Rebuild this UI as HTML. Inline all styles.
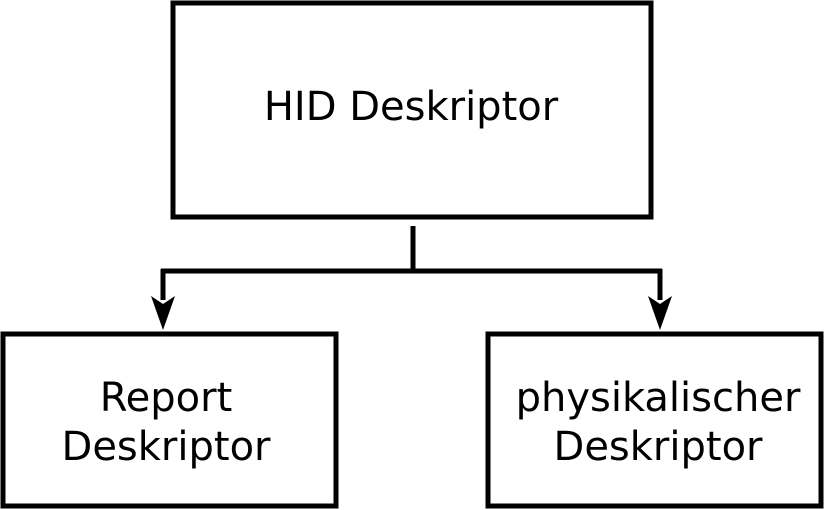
<!DOCTYPE html>
<html><head><style>html,body{margin:0;padding:0;background:#fff}svg{display:block}</style></head>
<body>
<svg width="825" height="510" viewBox="0 0 825 510" xmlns="http://www.w3.org/2000/svg" font-family="DejaVu Sans, Liberation Sans, sans-serif" font-size="40" text-anchor="middle" fill="#000">
<g fill="none" stroke="#000" stroke-width="5">
<rect x="173" y="3" width="478" height="214"/>
<rect x="3" y="334" width="333" height="172"/>
<rect x="488" y="334" width="333" height="172"/>
<path d="M413 226 V271 M161 271 H662 M163 269 V300 M660 269 V300"/>
</g>
<path d="M151 296 L163 304 L175 296 L163 330 Z"/>
<path d="M648 296 L660 304 L672 296 L660 330 Z"/>
<text x="411" y="120">HID Deskriptor</text>
<text x="166" y="411">Report</text>
<text x="166" y="460">Deskriptor</text>
<text x="658" y="411">physikalischer</text>
<text x="658" y="460">Deskriptor</text>
</svg>
</body></html>
